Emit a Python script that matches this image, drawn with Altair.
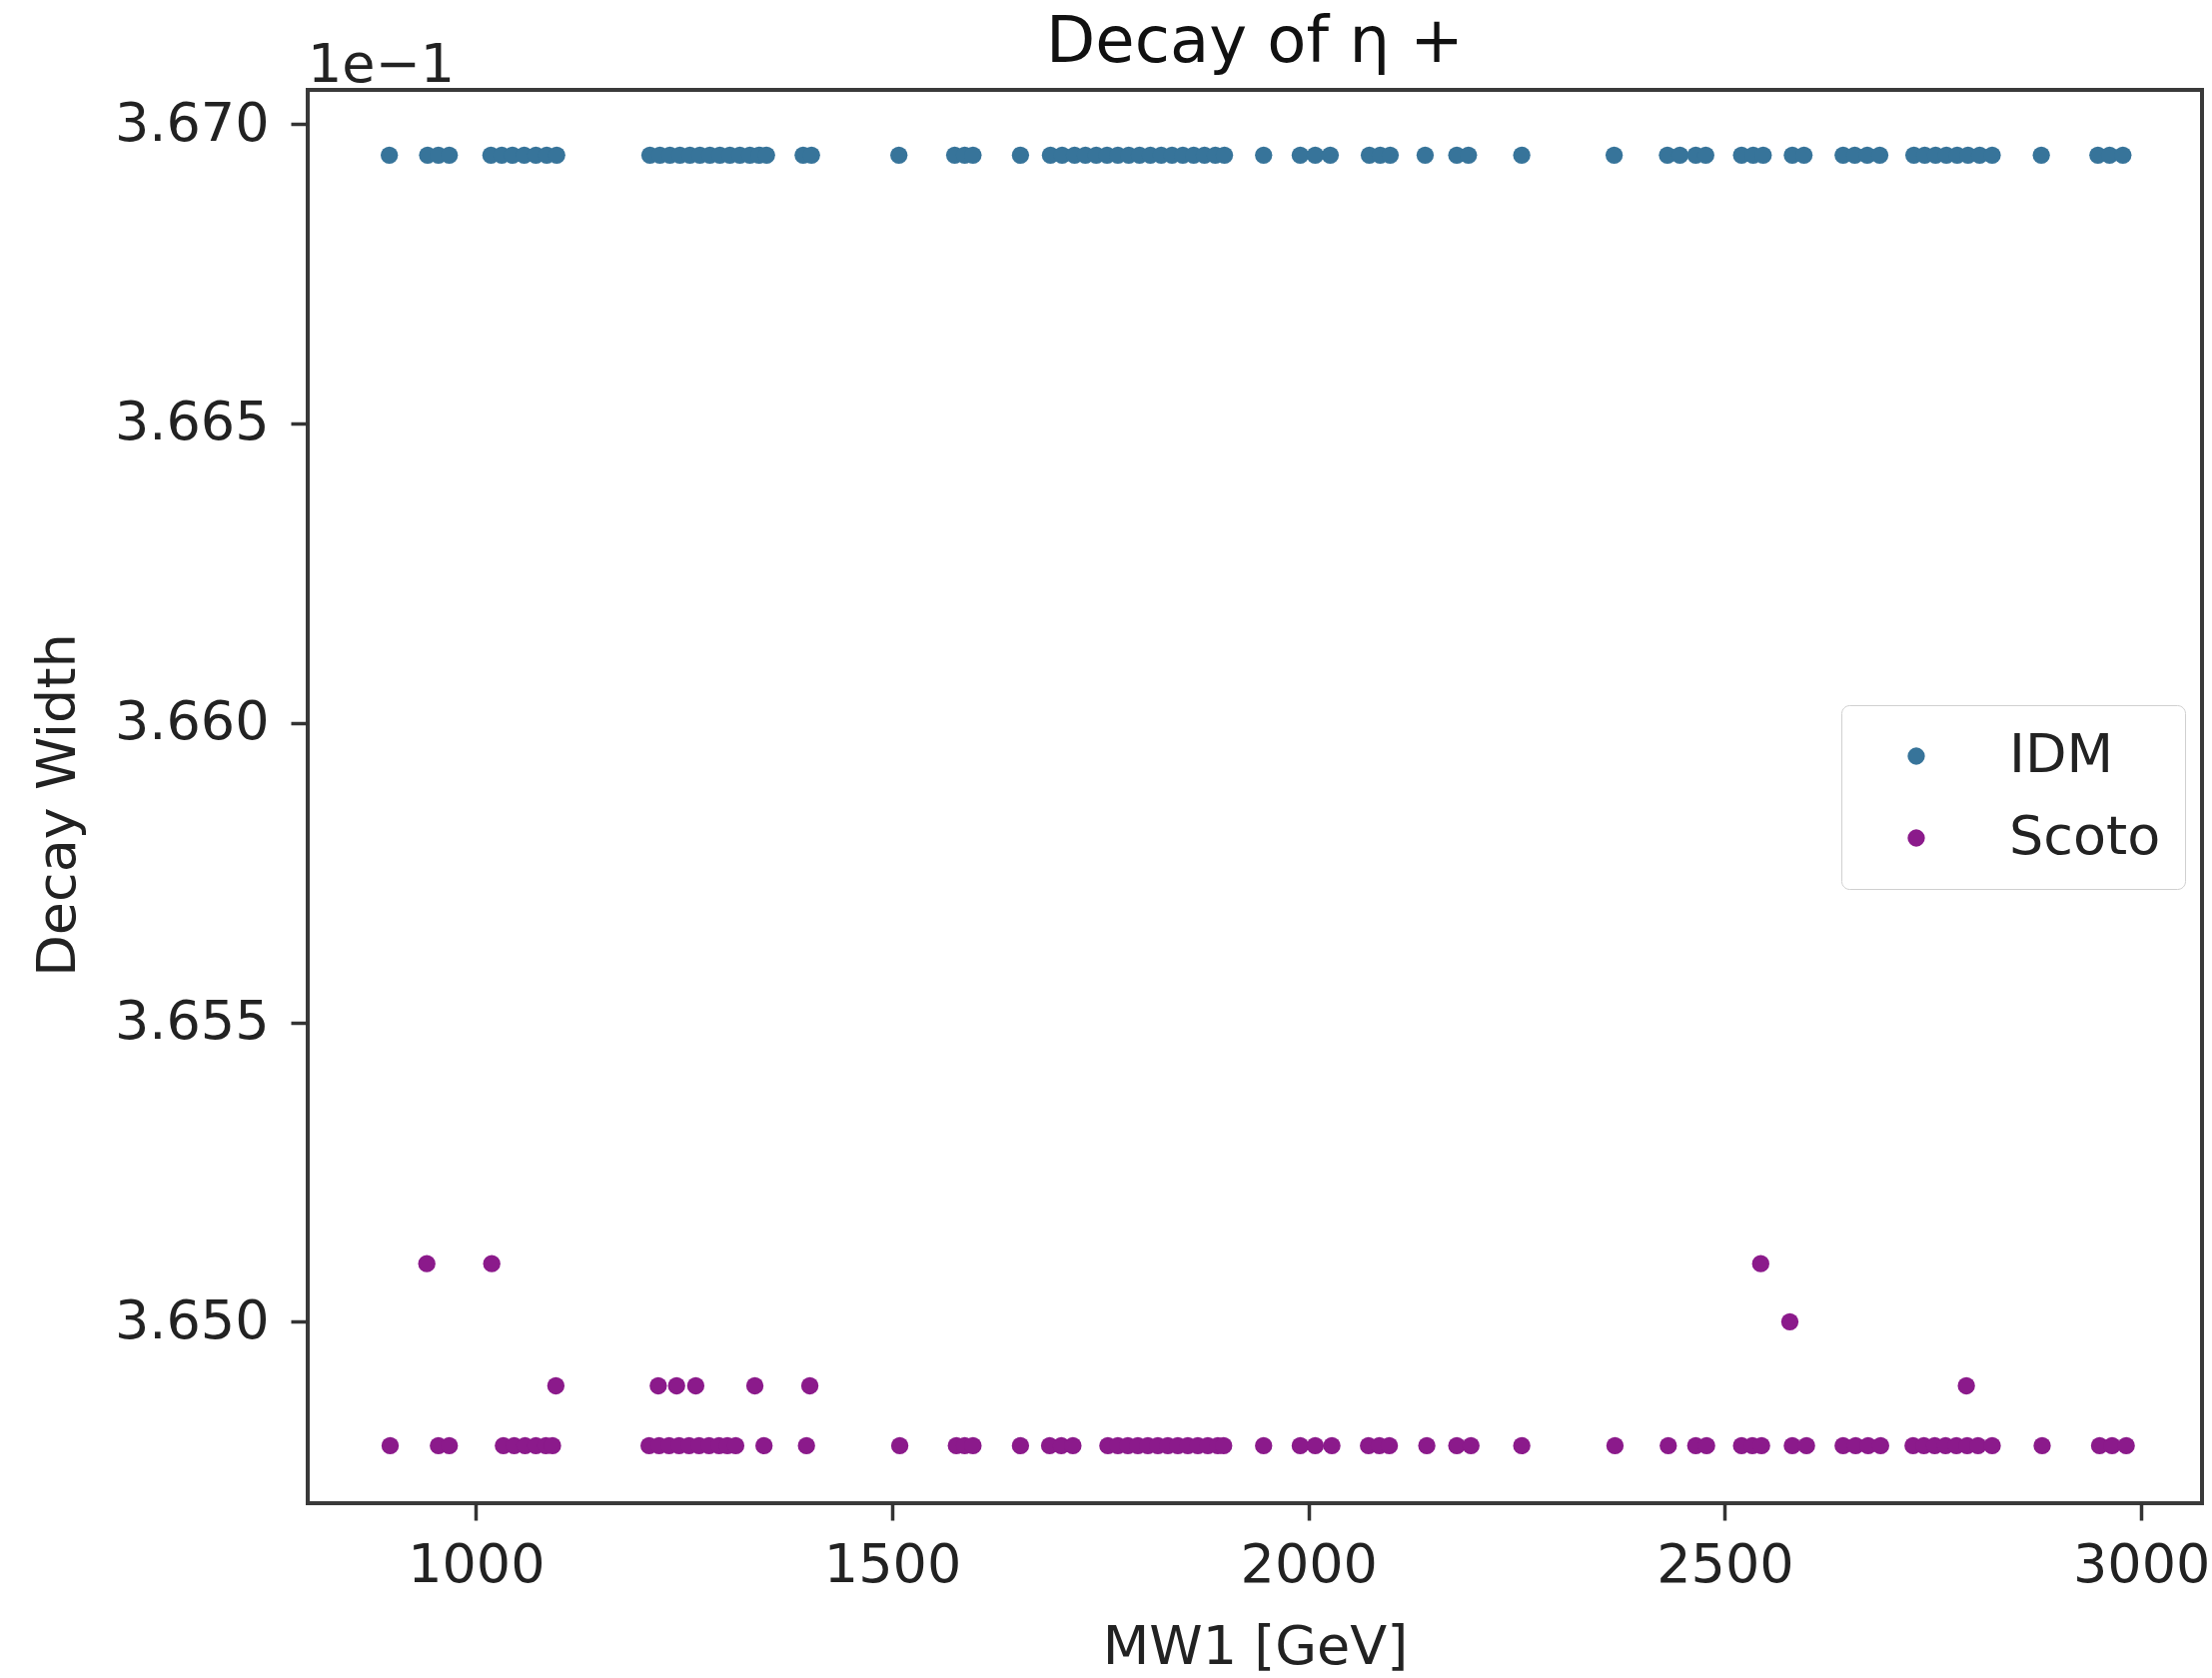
import altair as alt
import pandas as pd

# Decay width of the charged scalar (axis values in units of 1e-1) versus MW1 [GeV]
idm_mw1 = [
    896, 942, 955, 968,
    1018, 1031, 1044, 1058, 1072, 1085, 1097,
    1209, 1221, 1233, 1245, 1257, 1269, 1281, 1293, 1305, 1317, 1329, 1340, 1349,
    1393, 1403, 1508, 1575, 1587, 1597, 1654,
    1690, 1704, 1719, 1732, 1745, 1758, 1771, 1784, 1797, 1810, 1823, 1836, 1849,
    1862, 1875, 1888, 1899,
    1946, 1990, 2008, 2026, 2073, 2086, 2098, 2140, 2178, 2192, 2256, 2367,
    2431, 2446, 2465, 2477, 2520, 2534, 2546, 2581, 2595,
    2642, 2656, 2671, 2686, 2727, 2740, 2753, 2766, 2779, 2792, 2806, 2821,
    2880, 2948, 2962, 2978,
]
idm_level = 3.66948

# Scotogenic model: most points sit on the lower band, a few lie above it
scoto_band_mw1 = [
    897, 955, 968,
    1033, 1046, 1059, 1072, 1084, 1092,
    1208, 1220, 1232, 1244, 1256, 1268, 1280, 1292, 1302, 1312,
    1346, 1397, 1509, 1577, 1587, 1597, 1654,
    1689, 1703, 1717,
    1759, 1771, 1783, 1795, 1807, 1819, 1831, 1843, 1855, 1867, 1879, 1891, 1898,
    1946, 1990, 2008, 2028, 2072, 2085, 2097, 2142, 2178, 2195, 2256, 2368,
    2432, 2465, 2478, 2520, 2533, 2544, 2581, 2598,
    2642, 2657, 2672, 2687, 2726, 2739, 2752, 2765, 2778, 2791, 2804, 2821,
    2881, 2950, 2965, 2982,
]
scoto_band_level = 3.64793
scoto_mid_mw1 = [1096, 1219, 1241, 1264, 1335, 1401, 2790]
scoto_mid_level = 3.64893
scoto_650_mw1 = [2578]
scoto_650_level = 3.65000
scoto_651_mw1 = [941, 1019, 2543]
scoto_651_level = 3.65097

series = ["IDM", "Scoto"]
colors = ["#37749a", "#8b1a8b"]
x_ticks = [1000, 1500, 2000, 2500, 3000]
y_ticks = [3.650, 3.655, 3.660, 3.665, 3.670]
offset_label = "1e\u22121"
title_text = "Decay of \u03b7 +"


def rows(model, xs, level):
    return pd.DataFrame({"model": model, "MW1": xs, "width": [level] * len(xs)})


df = pd.concat(
    [
        rows("IDM", idm_mw1, idm_level),
        rows("Scoto", scoto_band_mw1, scoto_band_level),
        rows("Scoto", scoto_mid_mw1, scoto_mid_level),
        rows("Scoto", scoto_650_mw1, scoto_650_level),
        rows("Scoto", scoto_651_mw1, scoto_651_level),
    ],
    ignore_index=True,
)

FONT = "DejaVu Sans"
FS = 54
W, H = 1896, 1415
DOT = 300

points = alt.Chart(df).mark_circle(size=DOT, opacity=1, strokeWidth=0).encode(
    x=alt.X(
        "MW1:Q",
        scale=alt.Scale(domain=[798, 3073], nice=False, zero=False),
        axis=alt.Axis(
            values=x_ticks, format="d", grid=False, domain=False,
            tickSize=17, tickWidth=3.5, tickColor="#333",
            labelFont=FONT, labelFontSize=FS, labelColor="#222", labelPadding=18,
            title="MW1 [GeV]", titleFont=FONT, titleFontSize=FS,
            titleFontWeight="normal", titleColor="#222",
            titleY=160, titleBaseline="alphabetic",
        ),
    ),
    y=alt.Y(
        "width:Q",
        scale=alt.Scale(domain=[3.64697, 3.67057], nice=False, zero=False),
        axis=alt.Axis(
            values=y_ticks, format=".3f", grid=False, domain=False,
            tickSize=17, tickWidth=3.5, tickColor="#333",
            labelFont=FONT, labelFontSize=FS, labelColor="#222", labelPadding=22,
            title="Decay Width", titleFont=FONT, titleFontSize=FS,
            titleFontWeight="normal", titleColor="#222",
            titleX=-250, titleY=H / 2 + 8, titleAngle=-90,
            titleAlign="center", titleBaseline="middle",
        ),
    ),
    color=alt.Color(
        "model:N",
        scale=alt.Scale(domain=series, range=colors),
        title=None,
        legend=alt.Legend(
            orient="none", legendX=1535, legendY=616,
            padding=24, fillColor="white", strokeColor="#d0d0d0",
            cornerRadius=8, symbolType="circle", symbolSize=DOT,
            symbolStrokeWidth=0, symbolOpacity=1, symbolOffset=24,
            labelOffset=66, labelFont=FONT, labelFontSize=FS,
            labelColor="#222", rowPadding=28,
        ),
    ),
)

label_df = pd.DataFrame({"t": [offset_label]})
offset_text = alt.Chart(label_df).mark_text(
    align="left", baseline="alphabetic", font=FONT, fontSize=FS, color="#222"
).encode(x=alt.value(0), y=alt.value(-8), text="t:N")

title_df = pd.DataFrame({"t": [title_text]})
title_mark = alt.Chart(title_df).mark_text(
    align="center", baseline="alphabetic", font=FONT, fontSize=64, color="#111"
).encode(x=alt.value(W / 2), y=alt.value(-28), text="t:N")

chart = (
    alt.layer(points, offset_text, title_mark)
    .properties(
        width=W,
        height=H,
        autosize=alt.AutoSizeParams(type="none"),
        padding={"left": 308, "top": 90, "right": 10, "bottom": 175},
    )
    .configure(background="white")
    .configure_view(stroke="#3a3a3a", strokeWidth=4)
)

chart.save("out.html", embed_options={"renderer": "svg", "actions": False})
